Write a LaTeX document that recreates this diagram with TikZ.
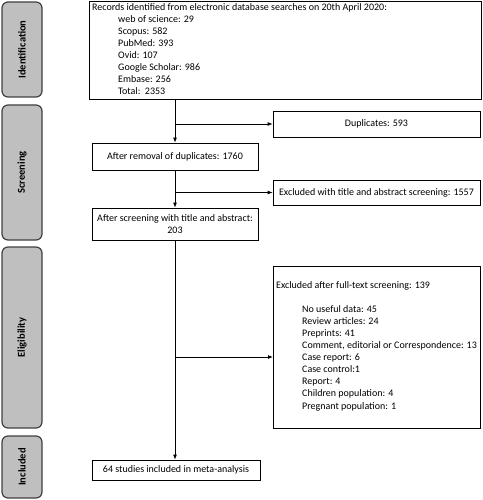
\documentclass[tikz,border=0pt]{standalone}
\usepackage{fontspec}
\setmainfont{Carlito}
\usetikzlibrary{arrows.meta}
\begin{document}
\begin{tikzpicture}[x=1pt,y=-1pt,
  phase/.style={draw=black!75, line width=1.2pt, fill=black!25, rounded corners=6pt},
  phaselabel/.style={rotate=90, font=\fontsize{10.5}{12}\selectfont\bfseries},
  box/.style={draw, line width=0.8pt},
  txt/.style={font=\fontsize{10}{12.1}\selectfont, inner sep=0pt},
  arr/.style={line width=0.8pt, -{Latex[length=5pt,width=4pt]}}]
\useasboundingbox (0,0) rectangle (482,500);
% phases
\draw[phase] (2,2) rectangle (42,97);
\node[phaselabel] (pid) at (22,49.5) {Identification};
\draw[phase] (2,105) rectangle (42,240);
\node[phaselabel] (psc) at (22,172.5) {Screening};
\draw[phase] (2,247) rectangle (42,428);
\node[phaselabel] (pel) at (22,337.5) {Eligibility};
\draw[phase] (2,436) rectangle (42,498);
\node[phaselabel] (pin) at (22,467) {Included};
% boxes
\draw[box] (89,1) rectangle (481,99);
\node[txt, anchor=north west, align=left] (rec) at (92,3) {Records identified from electronic database searches on 20th April 2020:\\
\hspace*{26pt}web of science: 29\\
\hspace*{26pt}Scopus: 582\\
\hspace*{26pt}PubMed: 393\\
\hspace*{26pt}Ovid: 107\\
\hspace*{26pt}Google Scholar: 986\\
\hspace*{26pt}Embase: 256\\
\hspace*{26pt}Total:\ \ 2353};
\coordinate (recb) at (175,99);
\node[box, minimum width=207pt, minimum height=26pt, inner sep=0pt, font=\fontsize{10}{13}\selectfont] (dup) at (376.5,124) {Duplicates: 593};
\node[box, minimum width=166pt, minimum height=27pt, inner sep=0pt, font=\fontsize{10}{13}\selectfont] (rem) at (175,156.5) {After removal of duplicates: 1760};
\node[box, minimum width=207pt, minimum height=25pt, inner sep=0pt, font=\fontsize{10}{13}\selectfont] (ext) at (376.5,192.5) {Excluded with title and abstract screening: 1557};
\node[box, minimum width=166pt, minimum height=32pt, inner sep=0pt, align=center, font=\fontsize{10}{12.1}\selectfont] (scr) at (175,224) {After screening with title and abstract:\\203};
\draw[box] (273,266) rectangle (480,428);
\node[txt, anchor=north west, align=left] (exf) at (276,281) {Excluded after full-text screening: 139\\[12pt]
\hspace*{26pt}No useful data: 45\\
\hspace*{26pt}Review articles: 24\\
\hspace*{26pt}Preprints: 41\\
\hspace*{26pt}Comment, editorial or Correspondence: 13\\
\hspace*{26pt}Case report: 6\\
\hspace*{26pt}Case control:1\\
\hspace*{26pt}Report: 4\\
\hspace*{26pt}Children population: 4\\
\hspace*{26pt}Pregnant population: 1};
\coordinate (exfl) at (273,357);
\node[box, minimum width=168pt, minimum height=20pt, inner sep=0pt, font=\fontsize{10}{13}\selectfont] (inc) at (176,470) {64 studies included in meta-analysis};
% connectors
\draw[arr] (recb) -- (rem.north -| recb);
\draw[arr] (175,124) -- (dup.west);
\draw[arr] (rem.south) -- (scr.north);
\draw[arr] (175,192.5) -- (ext.west);
\draw[arr] (scr.south) -- (inc.north -| scr.south);
\draw[arr] (175,357) -- (exfl);
\end{tikzpicture}
\end{document}
